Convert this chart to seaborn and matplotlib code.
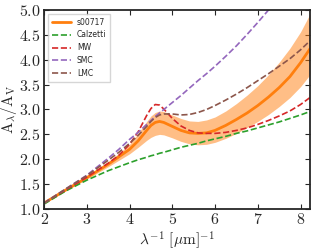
import numpy as np
import pandas as pd
import matplotlib
matplotlib.use("Agg")
import matplotlib.pyplot as plt
import seaborn as sns

# inverse wavelength grid [1/um]
inv_wave = [2.0, 2.5, 3.0, 3.5, 3.75, 4.0, 4.2, 4.4, 4.5, 4.6, 4.7, 4.8, 5.0,
            5.2, 5.4, 5.6, 5.8, 6.0, 6.25, 6.5, 6.75, 7.0, 7.25, 7.5, 7.75,
            8.0, 8.22]

s00717 = [1.12, 1.38, 1.63, 1.90, 2.05, 2.20, 2.37, 2.58, 2.68, 2.74, 2.76,
          2.74, 2.66, 2.58, 2.53, 2.52, 2.53, 2.58, 2.68, 2.80, 2.93, 3.08,
          3.25, 3.44, 3.66, 3.94, 4.22]
s00717_lo = [1.11, 1.36, 1.60, 1.85, 1.98, 2.11, 2.24, 2.38, 2.44, 2.48, 2.50,
             2.49, 2.43, 2.36, 2.31, 2.29, 2.30, 2.34, 2.42, 2.52, 2.64, 2.76,
             2.90, 3.06, 3.24, 3.46, 3.70]
s00717_hi = [1.13, 1.40, 1.66, 1.95, 2.12, 2.30, 2.52, 2.76, 2.87, 2.94, 2.97,
             2.96, 2.89, 2.82, 2.77, 2.76, 2.79, 2.85, 2.97, 3.12, 3.29, 3.48,
             3.70, 3.95, 4.23, 4.56, 4.92]

calzetti = [1.10, 1.36, 1.58, 1.77, 1.85, 1.93, 1.99, 2.04, 2.07, 2.09, 2.12,
            2.14, 2.19, 2.24, 2.28, 2.32, 2.37, 2.41, 2.46, 2.52, 2.57, 2.63,
            2.69, 2.75, 2.82, 2.89, 2.96]
mw = [1.12, 1.38, 1.64, 1.92, 2.08, 2.30, 2.55, 2.88, 3.02, 3.10, 3.09, 3.01,
      2.82, 2.67, 2.58, 2.53, 2.52, 2.52, 2.54, 2.58, 2.63, 2.70, 2.78, 2.87,
      2.97, 3.10, 3.24]
smc = [1.12, 1.40, 1.68, 2.02, 2.20, 2.40, 2.54, 2.70, 2.78, 2.86, 2.93, 3.00,
       3.14, 3.28, 3.43, 3.58, 3.72, 3.87, 4.07, 4.28, 4.51, 4.75, 5.00, 5.26,
       5.52, 5.80, 6.05]
lmc = [1.12, 1.40, 1.67, 1.98, 2.14, 2.32, 2.48, 2.66, 2.76, 2.84, 2.89, 2.91,
       2.91, 2.89, 2.90, 2.94, 3.00, 3.08, 3.19, 3.31, 3.44, 3.58, 3.72, 3.87,
       4.02, 4.20, 4.38]

sns.set_style("ticks")
plt.rcParams["mathtext.fontset"] = "cm"
plt.rcParams["font.family"] = ["DejaVu Sans"]

fig = plt.figure(figsize=(3.15, 2.5), dpi=100)
ax = fig.add_axes([0.14, 0.164, 0.844, 0.796])

ax.fill_between(inv_wave, s00717_lo, s00717_hi, color="tab:orange",
                alpha=0.5, linewidth=0)
sns.lineplot(x=inv_wave, y=s00717, ax=ax, color="tab:orange", lw=2,
             label="s00717")

curves = [("Calzetti", calzetti, "tab:green"), ("MW", mw, "tab:red"),
          ("SMC", smc, "tab:purple"), ("LMC", lmc, "tab:brown")]
for name, vals, col in curves:
    sns.lineplot(x=inv_wave, y=vals, ax=ax, color=col, lw=1.2,
                 linestyle="--", label=name)

ax.set_xlim(2, 8.22)
ax.set_ylim(1, 5)
ax.set_xticks(range(2, 9))
ax.set_yticks(np.arange(1.0, 5.01, 0.5))
ax.set_xticklabels([f"${v}$" for v in range(2, 9)])
ax.set_yticklabels([f"${v:.1f}$" for v in np.arange(1.0, 5.01, 0.5)])
ax.tick_params(direction="in", top=True, right=True, labelsize=11.5,
               length=3.5, width=0.8, pad=2.5)
for sp in ax.spines.values():
    sp.set_linewidth(1.3)

ax.set_xlabel(r"$\mathrm{\lambda^{-1}\ [}\mu\mathrm{m]^{-1}}$", fontsize=11,
              labelpad=1)
ax.set_ylabel(r"$\mathrm{A_\lambda/A_V}$", fontsize=11, labelpad=0)

ax.legend(loc="upper left", fontsize=5.5, frameon=True, fancybox=False,
          handlelength=2.5, borderpad=0.5, labelspacing=0.5)

fig.savefig("out.png", dpi=100)
